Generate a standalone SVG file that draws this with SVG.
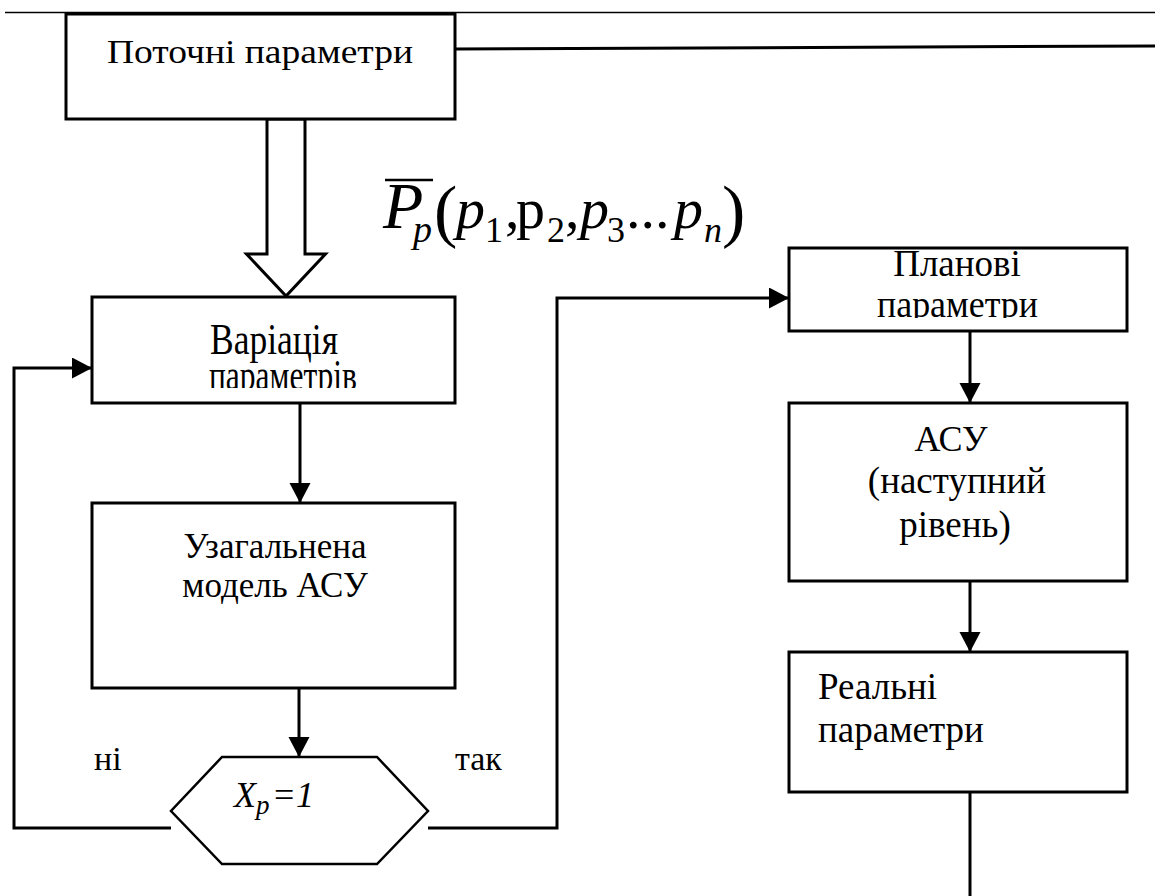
<svg xmlns="http://www.w3.org/2000/svg" width="1155" height="896" viewBox="0 0 1155 896">
<style>
.box{fill:#fff;stroke:#000;stroke-width:3}
.ln{fill:none;stroke:#000;stroke-width:3}
.t{font-family:"Liberation Serif","Times New Roman",serif;fill:#000}
.c{text-anchor:middle}
.i{font-style:italic}
</style>
<defs>
<marker id="ah" markerUnits="userSpaceOnUse" markerWidth="21" markerHeight="22" refX="20" refY="10.5" orient="auto">
<path d="M0,0 L20,10.5 L0,21 z" fill="#000"/>
</marker>
<clipPath id="clip2"><rect x="92" y="300" width="363" height="88"/></clipPath>
<clipPath id="clipPl"><rect x="789" y="250" width="338" height="68"/></clipPath>
</defs>
<rect width="1155" height="896" fill="#fff"/>

<g id="connectors">
<path d="M5,12.5 H1155" stroke="#000" stroke-width="1.5" fill="none"/>
<path d="M455,49 L1155,46" class="ln" stroke-width="2.5"/>
<path d="M171,828 H14 V368 H92" class="ln" marker-end="url(#ah)"/>
<path d="M428,828 H557 V298 H789" class="ln" marker-end="url(#ah)"/>
<path d="M300,403 V503" class="ln" marker-end="url(#ah)"/>
<path d="M299,688 V757" class="ln" marker-end="url(#ah)"/>
<path d="M970,331 V403" class="ln" marker-end="url(#ah)"/>
<path d="M970,581 V652" class="ln" marker-end="url(#ah)"/>
<path d="M970,792 V896" class="ln"/>
<polygon id="hollow-arrow" points="267,119 267,254 246.5,254 286,296 325.5,254 305,254 305,119" fill="#fff" stroke="#000" stroke-width="3" stroke-linejoin="miter"/>
</g>

<g id="formula">
<line x1="385" y1="180" x2="433" y2="180" stroke="#000" stroke-width="2.5"/>
<text class="t i" x="383" y="228" font-size="66">P</text>
<text class="t i" x="413" y="242" font-size="38">p</text>
<text class="t" x="434" y="234" font-size="70">(</text>
<text class="t i" x="456" y="228" font-size="58">p</text>
<text class="t" x="485" y="242" font-size="36">1</text>
<text class="t" x="505" y="228" font-size="58">,</text>
<text class="t" x="516" y="228" font-size="58">p</text>
<text class="t" x="547" y="242" font-size="36">2</text>
<text class="t" x="565" y="228" font-size="58">,</text>
<text class="t i" x="580" y="228" font-size="58">p</text>
<text class="t" x="607" y="242" font-size="36">3</text>
<text class="t" x="626" y="228" font-size="58">...</text>
<text class="t i" x="674" y="228" font-size="58">p</text>
<text class="t i" x="704" y="242" font-size="36">n</text>
<text class="t" x="722" y="234" font-size="70">)</text>
</g>

<g id="node-potochni">
<rect class="box" x="66" y="14" width="389" height="105"/>
<text class="t" x="107" y="63" font-size="34" textLength="306" lengthAdjust="spacingAndGlyphs">Поточні параметри</text>
</g>

<g id="node-variatsiia">
<rect class="box" x="92" y="297" width="363" height="106"/>
<text class="t" x="210" y="354" font-size="44" textLength="128" lengthAdjust="spacingAndGlyphs">Варіація</text>
<g clip-path="url(#clip2)">
<text class="t" x="209" y="390" font-size="44" textLength="148" lengthAdjust="spacingAndGlyphs">параметрів</text>
</g>
</g>

<g id="node-model">
<rect class="box" x="92" y="503" width="363" height="185"/>
<text class="t c" x="275" y="558" font-size="35">Узагальнена</text>
<text class="t c" x="275" y="597" font-size="35">модель АСУ</text>
</g>

<g id="node-decision">
<polygon points="222,757 377,757 428,811 377,864 222,864 171,811" fill="#fff" stroke="#000" stroke-width="2.5"/>
<text class="t i" x="234" y="807" font-size="36">X</text>
<text class="t i" x="256" y="814" font-size="27">p</text>
<text class="t" x="274" y="807" font-size="36">=</text>
<text class="t i" x="296" y="807" font-size="36">1</text>
</g>

<g id="labels">
<text class="t" x="94" y="770" font-size="34">ні</text>
<text class="t" x="455" y="770" font-size="34">так</text>
</g>

<g id="node-planovi">
<rect class="box" x="789" y="248" width="338" height="83"/>
<text class="t c" x="957" y="276" font-size="37">Планові</text>
<g clip-path="url(#clipPl)">
<text class="t" x="877" y="317" font-size="37" textLength="161" lengthAdjust="spacingAndGlyphs">параметри</text>
</g>
</g>

<g id="node-asu">
<rect class="box" x="789" y="403" width="338" height="178"/>
<text class="t c" x="951" y="451" font-size="36">АСУ</text>
<text class="t c" x="957" y="493" font-size="37">(наступний</text>
<text class="t c" x="955" y="537" font-size="37">рівень)</text>
</g>

<g id="node-realni">
<rect class="box" x="789" y="652" width="338" height="140"/>
<text class="t" x="818" y="699" font-size="37">Реальні</text>
<text class="t" x="818" y="742" font-size="37">параметри</text>
</g>
</svg>
